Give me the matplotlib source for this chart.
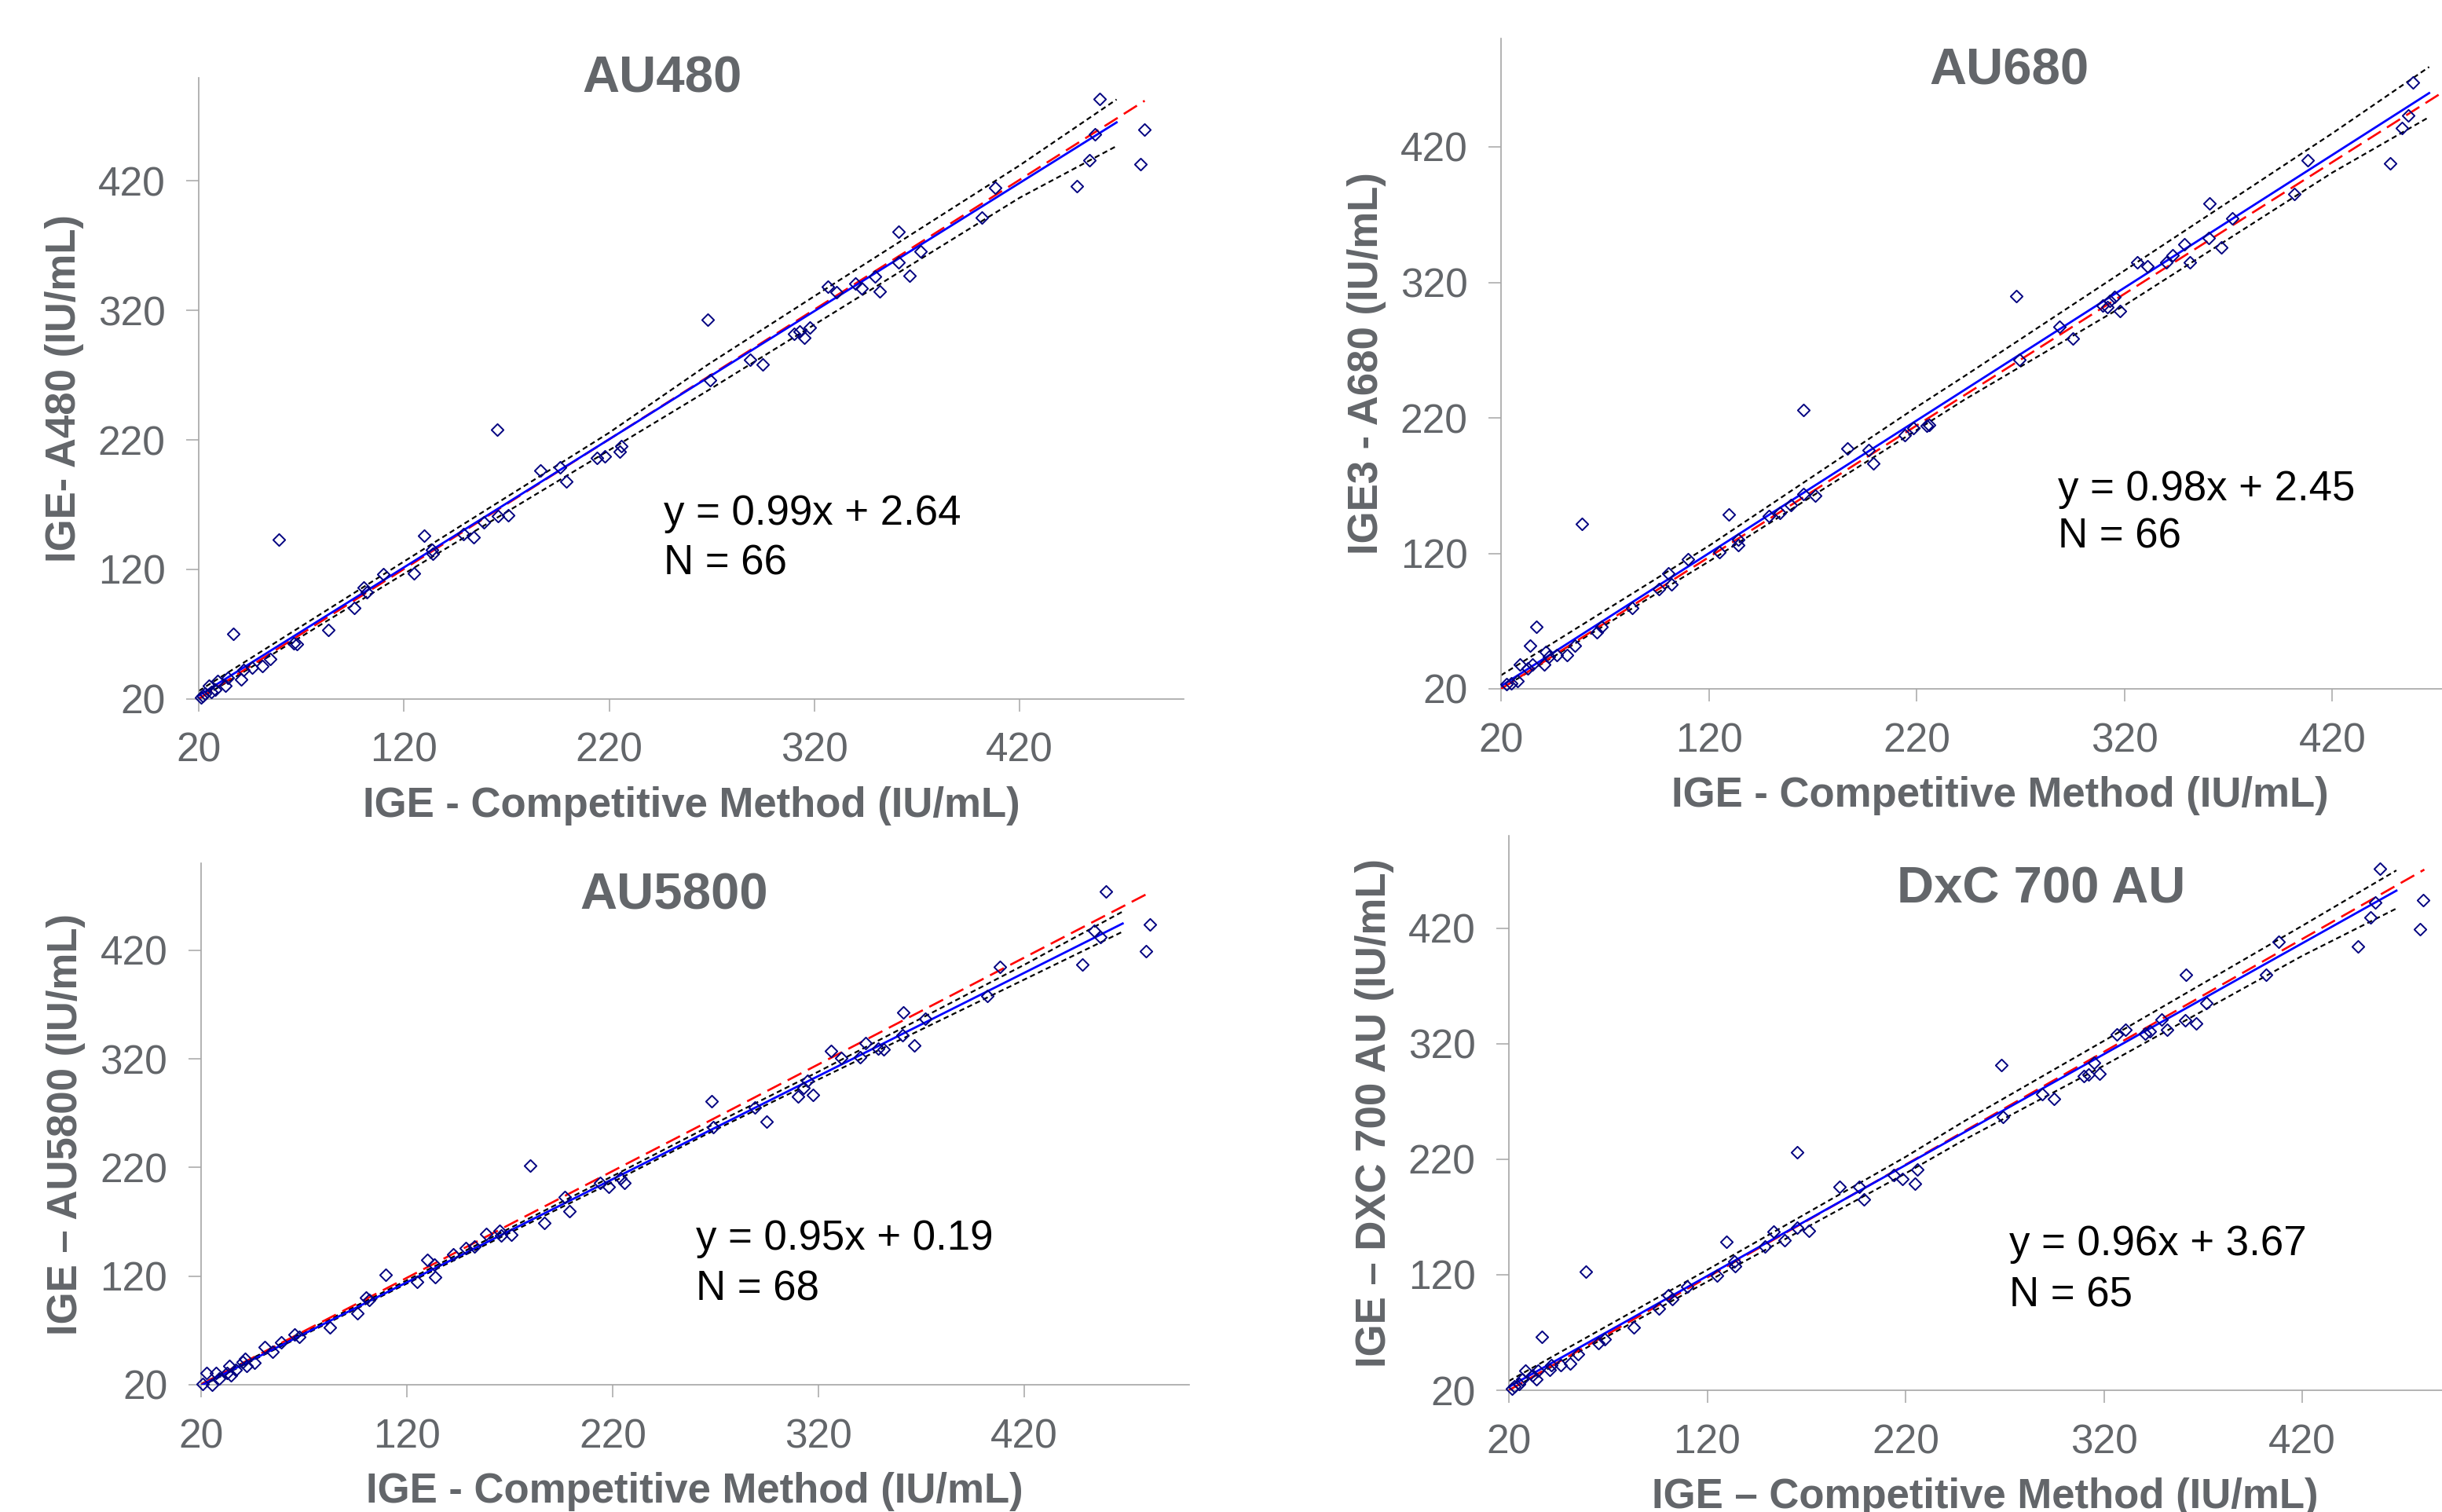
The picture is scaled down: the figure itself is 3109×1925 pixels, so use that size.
import numpy as np
import matplotlib
matplotlib.use("Agg")
import matplotlib.pyplot as plt
from matplotlib.path import Path

plt.rcParams['font.family'] = ['Liberation Sans', 'DejaVu Sans']

# ---------------- data ----------------
ticks = [20, 120, 220, 320, 420]

titles = ["AU480", "AU680", "AU5800", "DxC 700 AU"]
ylabels = ["IGE- A480 (IU/mL)", "IGE3 - A680 (IU/mL)", "IGE \u2013 AU5800 (IU/mL)", "IGE \u2013 DXC 700 AU (IU/mL)"]
xlabels = ["IGE - Competitive Method (IU/mL)", "IGE - Competitive Method (IU/mL)",
           "IGE - Competitive Method (IU/mL)", "IGE \u2013 Competitive Method (IU/mL)"]
slopes = [0.99, 0.98, 0.95, 0.96]
intercepts = [2.64, 2.45, 0.19, 3.67]
n_values = [66, 66, 68, 65]

p1_x = [21, 22, 23, 25, 26, 28, 29, 33, 34, 37, 40.5, 42, 46, 51, 55, 59, 66.5, 68, 83, 95.6,
        100.5, 102, 110, 125, 130, 133.7, 134, 149, 154, 159, 165.5, 166, 171, 186.6, 196, 199, 214, 218, 225, 226,
        268, 269, 288.6, 295, 310, 313, 315, 317.7, 326.5, 331, 340, 343, 349.5, 351.7, 361, 361, 366.5, 371.8,
        401.7, 408, 448, 454, 456.6, 459, 479, 481]
p1_y = [21, 22, 24, 30, 25, 27, 34, 30, 36, 70, 35, 42, 44, 45, 51, 143, 63, 62, 73, 90,
        106, 102, 116, 117, 146, 135, 132, 147, 145, 156, 228, 161, 162, 196.5, 199, 188, 206, 207, 211, 215,
        313, 266, 282, 278, 302, 303.5, 299, 306.7, 338.4, 334, 341, 337, 346, 334.6, 381, 357, 347, 365.4,
        391.7, 414.6, 416, 436, 456, 483.5, 433, 460]

p2_x = [22.5, 25, 28, 29, 32.7, 34, 35, 37, 40.8, 41.4, 43, 46.7, 51.6, 55.4, 59, 66, 68.4, 83, 96, 100.5,
        102, 110, 125, 129.7, 134, 134, 149, 154, 159.6, 165.7, 165.7, 171, 186.7, 197, 199, 214.4, 218.5, 225, 226,
        268, 269.4, 288.7, 295, 309.5, 311.7, 312.8, 315, 317.8, 326.3, 331, 340, 343, 349, 351.6, 361, 360.7,
        366.6, 371.7, 401.7, 408, 447.8, 453.7, 456.6, 458.8, 479, 481]
p2_y = [23.5, 24, 25.7, 38, 35, 52, 38, 66, 38, 47, 44, 45, 45, 52, 142, 62, 66, 80, 93.5, 105,
        97, 115.7, 121, 148.5, 130, 126, 147.5, 149.7, 155.5, 226, 164, 162.4, 197.4, 196, 186.6, 207, 212.7, 214, 215,
        309.7, 263, 287.4, 278.8, 302.7, 301.7, 306.5, 309, 299, 334.5, 332, 335, 340, 348, 335, 378, 352.6,
        346, 367, 385, 410, 407.6, 434, 443, 467.7, 430, 455]

p3_x = [21, 23, 25.4, 27.4, 29, 32.6, 34, 34.6, 37, 40.4, 41.4, 42.4, 46, 51, 55, 59, 65.7, 67.9, 82.6, 95.9,
        100.4, 101.7, 110, 125, 130, 133.4, 133.8, 142.6, 148.8, 153, 158.5, 165, 166, 171, 180, 186.7, 196.6, 199,
        214, 218, 224, 225.8, 268, 269, 289, 294.7, 310, 312.8, 314.7, 317.4, 326, 331, 340, 342.7, 349, 351.7,
        361, 360.8, 366.5, 371.7, 401.9, 408, 448, 454, 457, 459.4, 479, 481]
p3_y = [21, 31, 20, 31, 25.5, 31, 37, 28.7, 33.5, 41, 43.5, 37.7, 40, 54.5, 50, 58.7, 66, 64, 73, 86,
        100.6, 98.4, 121, 114.5, 135, 130.6, 119, 140, 145.8, 147.4, 158.7, 162, 157, 158, 221.6, 169, 192.6, 180,
        206, 202, 210, 206, 281, 257, 275, 262, 285.5, 293.5, 300, 286.8, 327.4, 320.6, 321.6, 334.5, 329.7, 329,
        362.6, 342, 332, 357, 378, 404.8, 407, 437.7, 432, 473.9, 419, 443.5]

p4_x = [21.4, 22.8, 25.3, 26.7, 28.5, 32, 34, 34.7, 36.6, 40.5, 41.4, 46, 51, 55, 59, 65.3, 68.3, 82.8, 95.7,
        100.3, 102.2, 109.8, 125, 129.6, 133.7, 134, 149, 153.5, 159, 165.5, 165.5, 171.4, 186.8, 196.5, 199,
        214, 218.6, 224.8, 226, 268.5, 269, 288.8, 295, 310, 312.3, 315, 318, 326.5, 331, 340.7, 343.3, 349, 352,
        361.5, 361, 366.5, 371.8, 401.7, 408.3, 448.3, 454.4, 457, 459.3, 479.3, 481]
p4_y = [21.6, 23.2, 25.5, 29.6, 36.7, 32.8, 29.6, 37, 66.5, 37.6, 41.8, 41.8, 43.4, 51, 123, 60.7, 64, 74.5, 90.6,
        102.4, 99.2, 109.8, 119.4, 148.3, 131.3, 127.5, 144.5, 157.3, 150, 226, 161, 158, 195.8, 195.8, 185,
        206, 202.8, 198.7, 210.9, 301.6, 256.7, 276.6, 272.4, 292, 293.6, 303.2, 294.3, 328, 332, 328.9, 331, 340.8, 331.8,
        379.9, 340, 337.6, 355.2, 379.9, 408.1, 404.3, 429.6, 442.5, 471.3, 419.4, 444.4]

# fitted-line extent (x)
fit_x_end = [467.3, 466.6, 467.7, 467.5]

# red dashed reference line: end points
red_x = [[20, 481], [20, 482], [20, 481], [20, 481.6]]
red_y = [[20, 482], [20, 469], [20, 473.2], [20, 470.7]]

# confidence band knots
band_x = [[20, 120, 220, 268, 320, 420, 467.3],
          [20, 120, 220, 243, 320, 420, 466.6],
          [20, 120, 220, 265.6, 320, 420, 467.7],
          [20, 120, 220, 249.3, 320, 420, 467.5]]
band_up = [[26, 126, 225.5, 278, 331, 432, 483],
           [30, 125.5, 228, 250.8, 328.7, 430, 479],
           [20.5, 116, 212, 256.5, 308.2, 406.6, 455.5],
           [28, 124.2, 222, 252.6, 322.4, 422, 470]]
band_lo = [[19.5, 116.5, 212, 258, 309, 407, 447],
           [20, 114, 211, 233.4, 303, 401, 442],
           [18.5, 113, 206.5, 250.6, 301, 393, 437],
           [20, 114, 207.7, 236.5, 301, 396, 437]]

xs_all = [p1_x, p2_x, p3_x, p4_x]
ys_all = [p1_y, p2_y, p3_y, p4_y]

# ---------------- layout (pixels) ----------------
W, H = 3109, 1925
# left, right, top, bottom of each plot area in pixels
boxes = [(253, 1507, 98.6, 889.6),
         (1911, 3181, 49, 877),
         (255.5, 1514, 1099, 1763),
         (1921, 3133, 1064, 1770)]
title_pos = [(843, 118), (2558, 107), (858, 1158), (2599, 1150)]
eq_pos = [(845, 668, 731), (2620, 637, 698), (885.6, 1591, 1656), (2558, 1598, 1664)]

GRAY = '#63666A'
SPINE = '#A6A6A6'

fig = plt.figure(figsize=(W / 100, H / 100), dpi=100)
fig.patch.set_facecolor('white')

diamond = Path([(0, 1), (1, 0), (0, -1), (-1, 0), (0, 1)],
               [Path.MOVETO, Path.LINETO, Path.LINETO, Path.LINETO, Path.CLOSEPOLY])

for i in range(4):
    l, r, t, b = boxes[i]
    ax = fig.add_axes([l / W, 1 - b / H, (r - l) / W, (b - t) / H])
    ax.set_xlim(20, 500)
    ax.set_ylim(20, 500)
    for s in ['top', 'right']:
        ax.spines[s].set_visible(False)
    for s in ['left', 'bottom']:
        ax.spines[s].set_color(SPINE)
        ax.spines[s].set_linewidth(1.2)
    ax.set_xticks(ticks)
    ax.set_yticks(ticks)
    ax.tick_params(axis='both', direction='out', length=11.5, width=1.1, color=SPINE,
                   labelsize=37, labelcolor=GRAY)
    ax.tick_params(axis='x', pad=19)
    ax.tick_params(axis='y', pad=19)

    # bands
    ax.plot(band_x[i], band_up[i], color='black', lw=1.6, linestyle=(0, (3, 2)), zorder=2)
    ax.plot(band_x[i], band_lo[i], color='black', lw=1.6, linestyle=(0, (3, 2)), zorder=2)
    # red reference
    ax.plot(red_x[i], red_y[i], color='#FF0000', lw=1.9, linestyle=(0, (7.5, 3.5)), zorder=3)
    # blue fit
    fx = np.array([20, fit_x_end[i]])
    ax.plot(fx, slopes[i] * fx + intercepts[i], color='#0000FF', lw=2.0, zorder=4)
    # points
    ax.plot(xs_all[i], ys_all[i], linestyle='none', marker=diamond, markersize=11,
            markerfacecolor='none', markeredgecolor='#000080', markeredgewidth=1.4,
            zorder=5, clip_on=False)

    # labels
    cx = (l + r) / 2
    fig.text(cx / W, 1 - (b + 150) / H, xlabels[i], ha='center', va='baseline',
             fontsize=38, fontweight='bold', color=GRAY)
    fig.text((l - 171) / W, 1 - ((t + b) / 2) / H, ylabels[i], ha='center', va='center',
             rotation=90, fontsize=38, fontweight='bold', color=GRAY)
    tx, ty = title_pos[i]
    fig.text(tx / W, 1 - ty / H, titles[i], ha='center', va='baseline',
             fontsize=47, fontweight='bold', color=GRAY)
    ex, ey1, ey2 = eq_pos[i]
    fig.text(ex / W, 1 - ey1 / H, f"y = {slopes[i]:.2f}x + {intercepts[i]:.2f}",
             ha='left', va='baseline', fontsize=38, color='black')
    fig.text(ex / W, 1 - ey2 / H, f"N = {n_values[i]}",
             ha='left', va='baseline', fontsize=38, color='black')

fig.savefig('out.png', dpi=100, facecolor='white')
